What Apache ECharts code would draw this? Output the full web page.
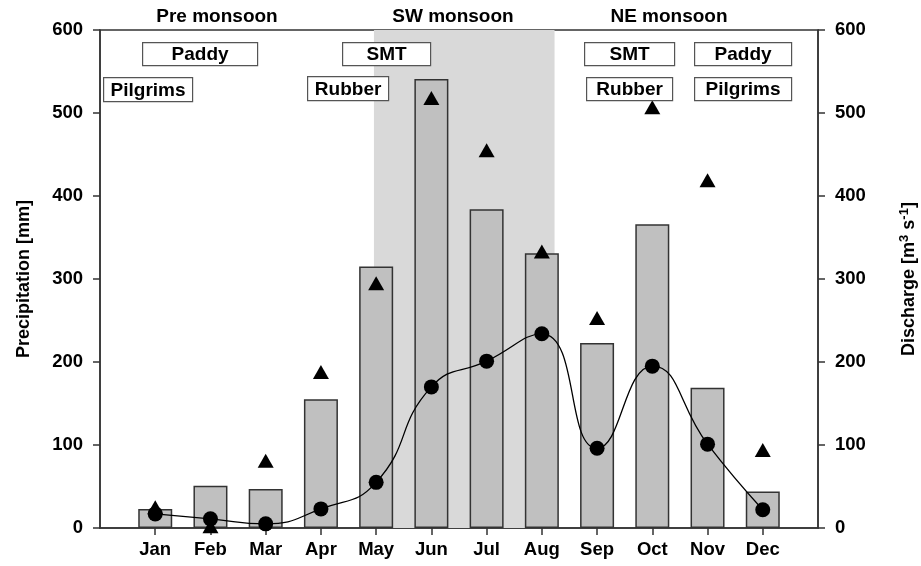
<!DOCTYPE html>
<html><head><meta charset="utf-8">
<script src="https://cdn.jsdelivr.net/npm/echarts@6/dist/echarts.min.js"></script>
<style>html,body{margin:0;padding:0;background:#fff}#c{width:921px;height:566px}</style>
</head><body><div id="c"></div>
<script>
const months = ['Jan','Feb','Mar','Apr','May','Jun','Jul','Aug','Sep','Oct','Nov','Dec'];
const precipitation = [23, 51, 47, 155, 315, 541, 384, 331, 223, 366, 169, 44];
const triangles = [25, 2, 81, 188, 295, 518, 455, 333, 253, 507, 419, 94];
const discharge = [17, 11, 5, 23, 55, 170, 201, 234, 96, 195, 101, 22];
const yTicks = [0, 100, 200, 300, 400, 500, 600];
const seasons = ['Pre monsoon', 'SW monsoon', 'NE monsoon'];
const swShade = [4.96, 8.23];

const chart = echarts.init(document.getElementById('c'));
const pos = i => i + 1;
const font = 'Liberation Sans, Arial, sans-serif';
const axColor = '#333';
function box(txt, x, y, w, h) {
  return {
    type: 'group', left: x, top: y, z: 100, children: [
      { type: 'rect', z: 100, shape: { x: 0, y: 0, width: w, height: h }, style: { fill: '#fff', stroke: '#555', lineWidth: 1.2 } },
      { type: 'text', z: 101, x: w / 2, y: h / 2 + 1, style: { text: txt, fill: '#000', font: 'bold 19px ' + font, align: 'center', verticalAlign: 'middle' } }
    ]
  };
}
function title(txt, x) {
  return { type: 'text', z: 100, x: x, y: 17, style: { text: txt, font: 'bold 19px ' + font, fill: '#000', align: 'center', verticalAlign: 'middle' } };
}
const option = {
  backgroundColor: '#fff',
  animation: false,
  grid: { left: 100, right: 103, top: 30, bottom: 38, containLabel: false, outerBoundsMode: 'none', show: true, borderColor: axColor, borderWidth: 1.5, backgroundColor: 'transparent' },
  xAxis: {
    type: 'value', min: 0, max: 13, interval: 1,
    axisLine: { lineStyle: { color: axColor, width: 1.5 } },
    axisTick: { show: true, length: 7, lineStyle: { color: axColor, width: 1.5 }, customValues: months.map((m, i) => pos(i)) },
    axisLabel: { customValues: months.map((m, i) => pos(i)), formatter: v => months[v - 1] || '', color: '#000', fontWeight: 'bold', fontSize: 18.5, fontFamily: font, margin: 12 },
    splitLine: { show: false }
  },
  yAxis: [
    {
      type: 'value', min: 0, max: 600, interval: 100, position: 'left',
      name: 'Precipitation [mm]', nameLocation: 'middle', nameGap: 67, nameRotate: 90,
      nameTextStyle: { color: '#000', fontWeight: 'bold', fontSize: 18, fontFamily: font },
      axisLine: { show: true, lineStyle: { color: axColor, width: 1.5 } },
      axisTick: { show: true, length: 7, lineStyle: { color: axColor, width: 1.5 } },
      axisLabel: { color: '#000', fontWeight: 'bold', fontSize: 18.5, fontFamily: font, margin: 17, formatter: v => yTicks.includes(v) ? String(v) : '' },
      splitLine: { show: false }
    },
    {
      type: 'value', min: 0, max: 600, interval: 100, position: 'right',
      name: 'Discharge [m{sup|3} s{sup|-1}]', nameLocation: 'middle', nameGap: 80, nameRotate: 90,
      nameTextStyle: { color: '#000', fontWeight: 'bold', fontSize: 18, fontFamily: font,
        rich: { sup: { fontSize: 13, fontWeight: 'bold', fontFamily: font, verticalAlign: 'top', padding: [0, 0, 10, 0] } } },
      axisLine: { show: true, lineStyle: { color: axColor, width: 1.5 } },
      axisTick: { show: true, length: 7, lineStyle: { color: axColor, width: 1.5 } },
      axisLabel: { color: '#000', fontWeight: 'bold', fontSize: 18.5, fontFamily: font, margin: 17 },
      splitLine: { show: false }
    }
  ],
  series: [
    {
      type: 'bar', yAxisIndex: 0, barWidth: 34,
      data: precipitation.map((v, i) => [pos(i), v]),
      itemStyle: { color: '#c0c0c0', borderColor: '#333', borderWidth: 1.5 },
      markArea: { silent: true, z: 1, itemStyle: { color: '#d9d9d9' }, data: [[{ xAxis: swShade[0] }, { xAxis: swShade[1] }]] },
      z: 2
    },
    {
      type: 'scatter', yAxisIndex: 0, symbol: 'triangle', symbolSize: [16, 14],
      data: triangles.map((v, i) => [pos(i), v]),
      itemStyle: { color: '#000', opacity: 1 }, z: 4
    },
    {
      type: 'line', yAxisIndex: 1, smooth: 0.5, symbol: 'circle', symbolSize: 15,
      data: discharge.map((v, i) => [pos(i), v]),
      lineStyle: { color: '#000', width: 1.3 }, itemStyle: { color: '#000', opacity: 1 }, z: 5
    }
  ],
  graphic: [
    title(seasons[0], 217),
    title(seasons[1], 453),
    title(seasons[2], 669),
    box('Paddy', 142, 42, 115, 23),
    box('Pilgrims', 103, 77, 89, 24),
    box('SMT', 342, 42, 88, 23),
    box('Rubber', 307, 76, 81, 24),
    box('SMT', 584, 42, 90, 23),
    box('Rubber', 586, 77, 86, 23),
    box('Paddy', 694, 42, 97, 23),
    box('Pilgrims', 694, 77, 97, 23)
  ]
};
chart.setOption(option);
</script></body></html>
